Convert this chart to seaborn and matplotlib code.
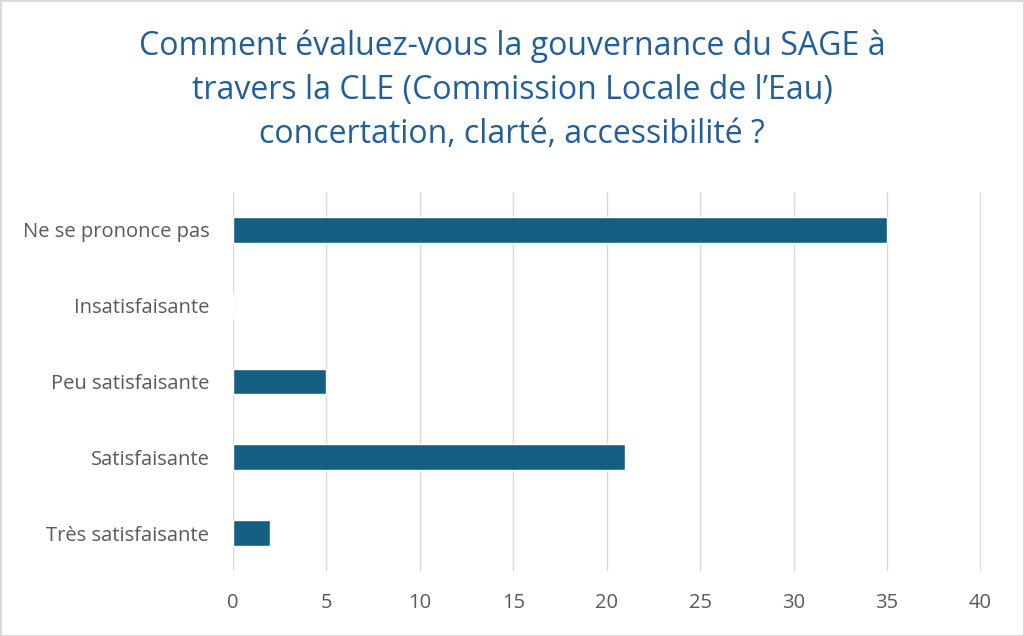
import matplotlib
matplotlib.use('Agg')
import matplotlib.pyplot as plt
import seaborn as sns
import pandas as pd

categories = ['Ne se prononce pas', 'Insatisfaisante', 'Peu satisfaisante',
              'Satisfaisante', 'Très satisfaisante']
values = [35, 0, 5, 21, 2]
x_ticks = [0, 5, 10, 15, 20, 25, 30, 35, 40]
title = ("Comment évaluez-vous la gouvernance du SAGE à\n"
         "travers la CLE (Commission Locale de l’Eau)\n"
         "concertation, clarté, accessibilité ?")

sns.set_style('white')
plt.rcParams['font.family'] = ['Open Sans', 'DejaVu Sans']

df = pd.DataFrame({'categorie': categories, 'valeur': values})

fig = plt.figure(figsize=(10.24, 6.36), dpi=100)
fig.patch.set_edgecolor('#D9D9D9')
fig.patch.set_linewidth(2)
ax = fig.add_axes([0.2275, 0.1022, 0.7305, 0.5958])

sns.barplot(data=df, x='valeur', y='categorie', color='#156082',
            width=0.34, saturation=1, ax=ax, zorder=3)

ax.set_xlim(0, 40.03)
ax.set_xticks(x_ticks)
ax.grid(axis='x', color='#D9D9D9', linewidth=1, zorder=0)
ax.set_xlabel('')
ax.set_ylabel('')
for s in ax.spines.values():
    s.set_visible(False)
ax.tick_params(axis='both', length=0, labelsize=14.5, labelcolor='#595959')
ax.tick_params(axis='y', pad=17)
ax.tick_params(axis='x', pad=16)

fig.text(0.5, 0.858, title, ha='center', va='center', fontsize=23,
         color='#215F9A', linespacing=1.45)

plt.savefig('out.png', dpi=100)
plt.close()
